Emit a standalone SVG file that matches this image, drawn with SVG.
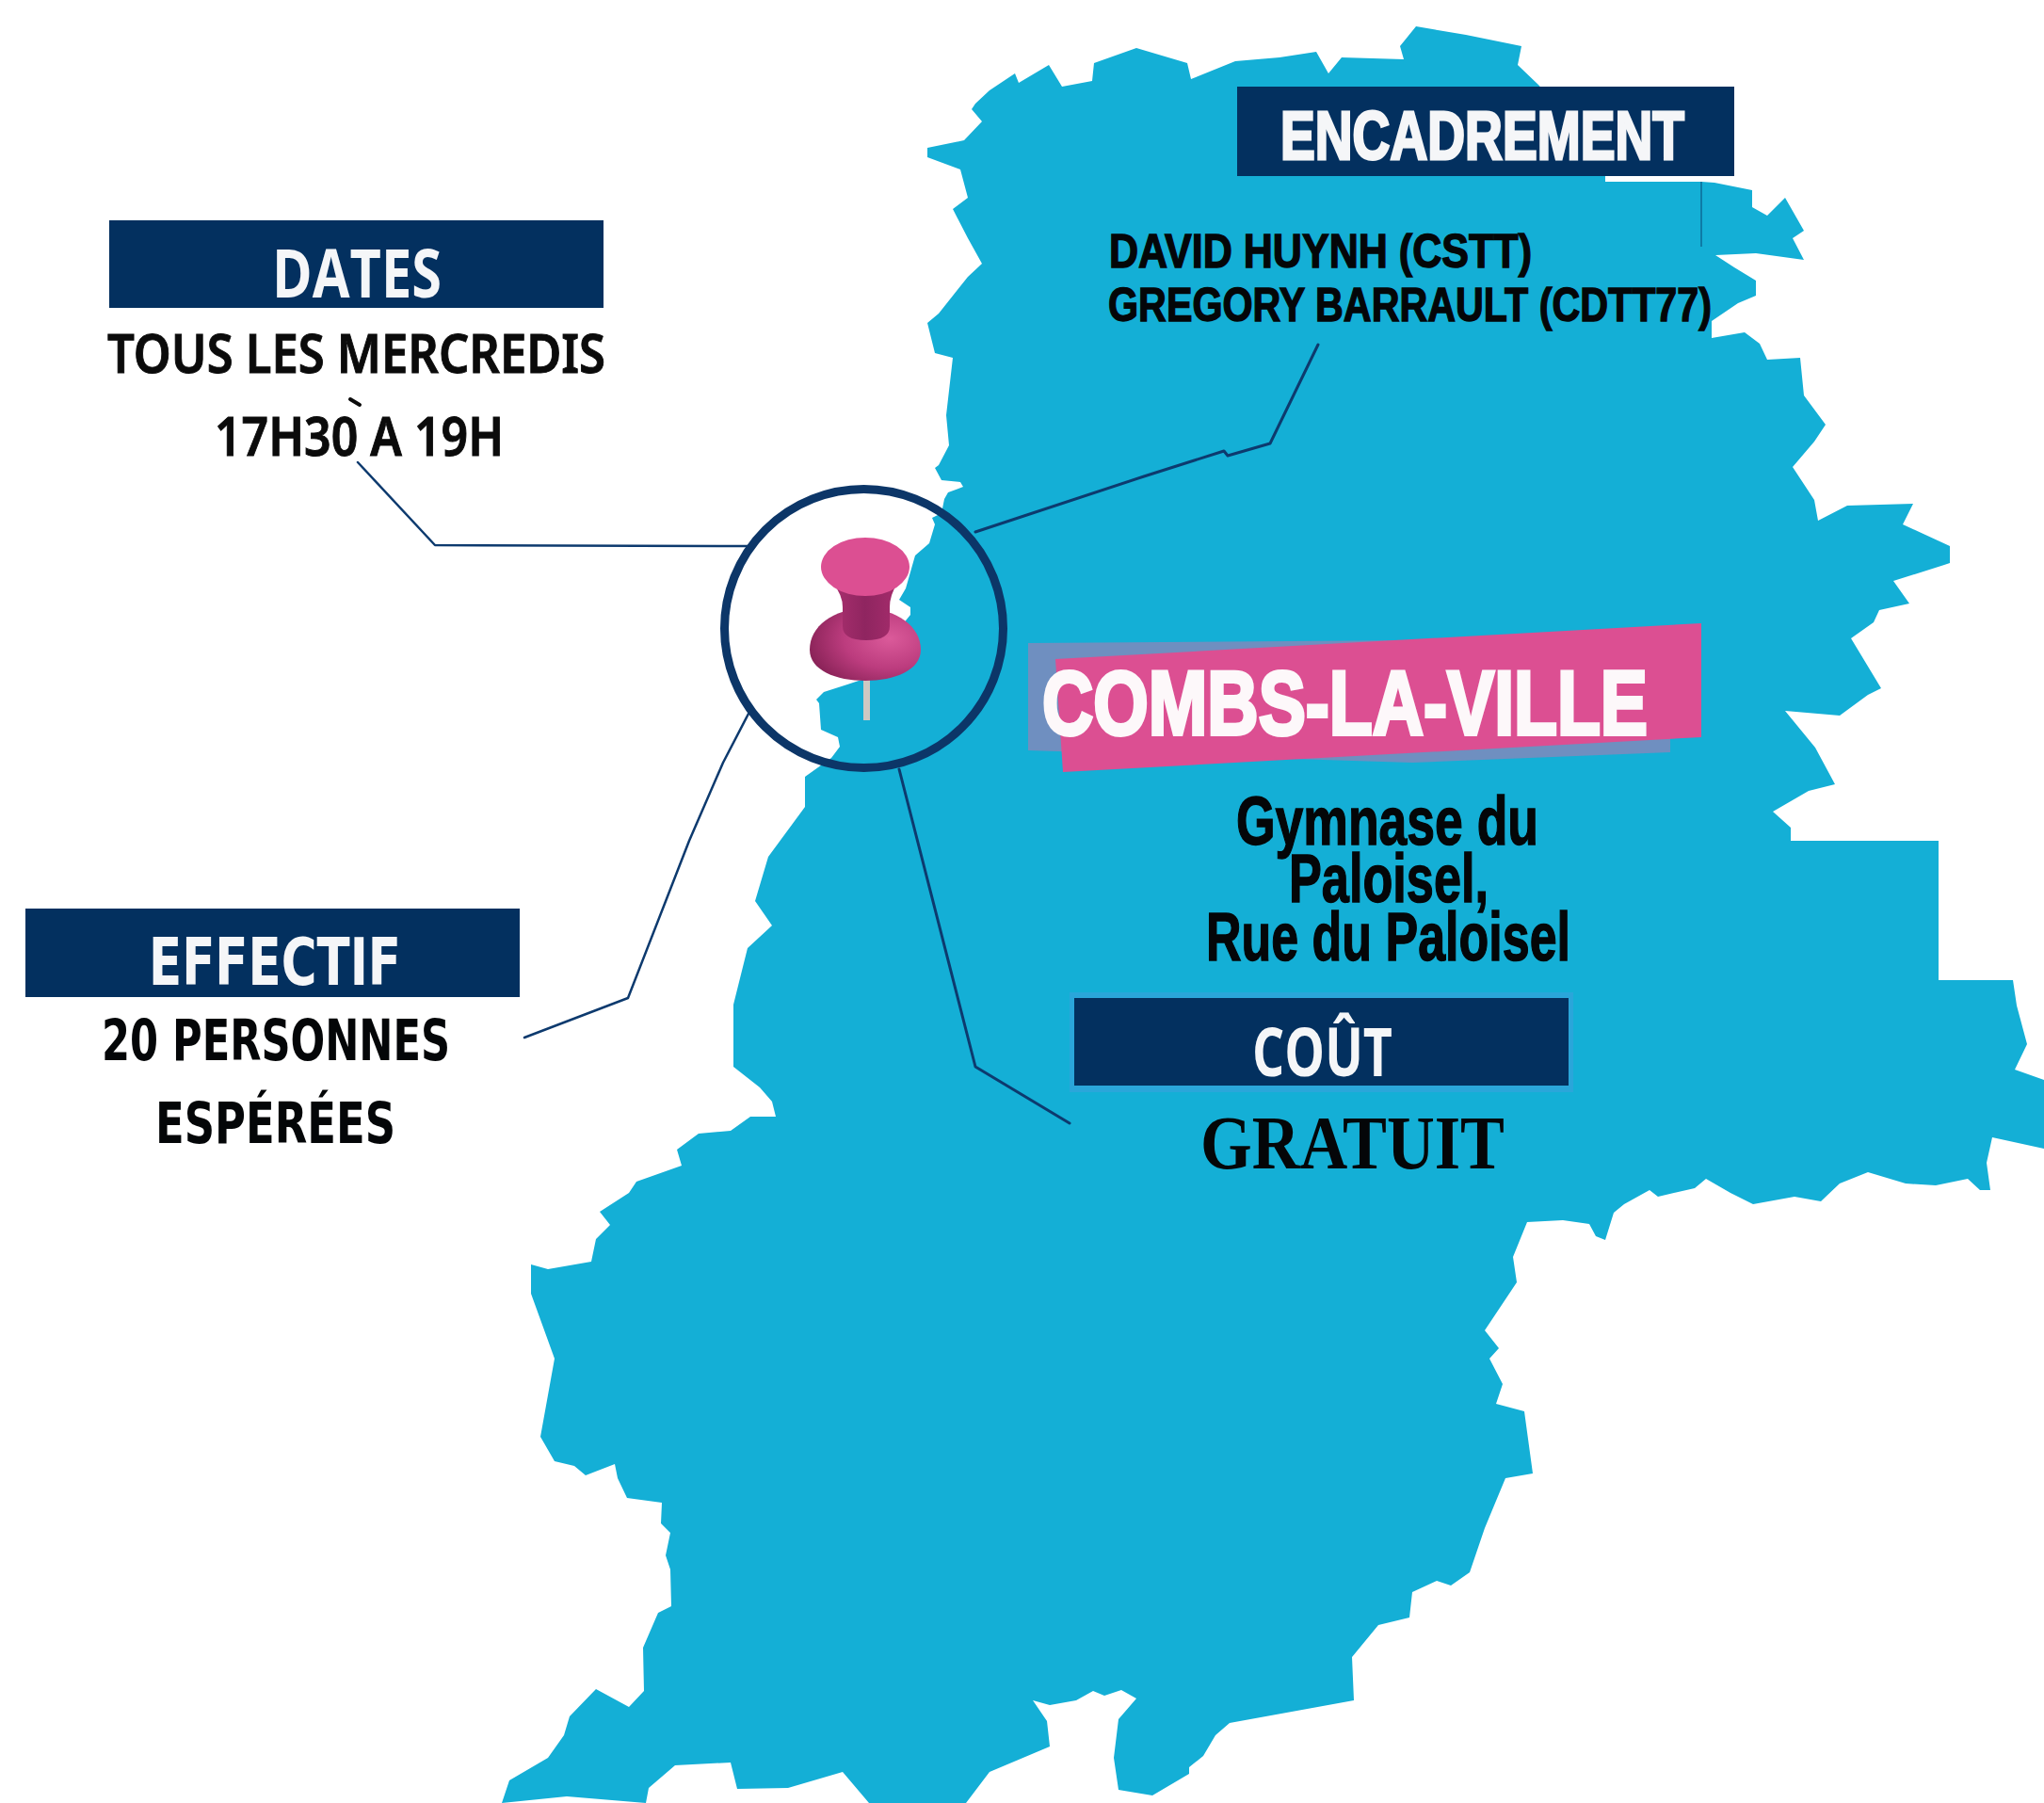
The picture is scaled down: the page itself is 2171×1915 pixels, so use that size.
<svg xmlns="http://www.w3.org/2000/svg" width="2171" height="1915" viewBox="0 0 2171 1915">
<style>
.banner{fill:#03305f}
.ban{fill:#f5f6f8;text-anchor:start}
.sans{font-family:"Liberation Sans",Arial,sans-serif;font-weight:700}
.open{font-family:"Open Sans","Noto Sans",sans-serif;font-weight:700}
.dv{font-family:"DejaVu Sans",sans-serif;font-weight:700}
.comic{font-family:"Noto Sans",sans-serif;font-weight:600;stroke:#0b0b0b;stroke-width:1;fill:#0b0b0b}
.blk{fill:#040608;stroke:#040608;stroke-width:1.4}
.conn{fill:none;stroke:#0d3a6e;stroke-width:2.5;stroke-linejoin:round;stroke-linecap:round}
</style>
<defs>
<linearGradient id="neck" x1="0" x2="1" y1="0" y2="0"><stop offset="0" stop-color="#a92f6e"/><stop offset=".5" stop-color="#8f2560"/><stop offset="1" stop-color="#a52c6c"/></linearGradient>
<radialGradient id="base" cx=".72" cy=".42" r=".75"><stop offset="0" stop-color="#db5a9a"/><stop offset=".55" stop-color="#bc3c7e"/><stop offset="1" stop-color="#8a2358"/></radialGradient>
</defs>
<rect width="2171" height="1915" fill="#fff"/>
<path id="map" fill="#14afd6" d="M1036 110L1051 96L1078 78L1082 88L1114 69L1128 92L1160 86L1162 67L1207 51L1261 67L1265 84L1312 65L1359 61L1398 55L1411 78L1425 61L1491 63L1487 49L1504 28L1557 37L1616 49L1612 69L1635 91L1660 130L1705 187L1705 193L1807 193L1821 194L1861 202L1861 220L1877 229L1896 210L1916 245L1904 253L1916 276L1865 269L1822 271L1842 284L1865 298L1865 314L1846 322L1818 341L1818 359L1853 353L1869 365L1877 382L1912 380L1916 420L1939 451L1927 469L1904 496L1927 531L1931 553L1962 537L2032 535L2021 557L2071 580L2071 598L2065 600L2011 617L2028 641L1996 648L1990 661L1966 678L1998 731L1984 738L1954 760L1896 755L1928 794L1949 833L1921 840L1883 862L1902 879L1902 893L2059 893L2059 1041L2138 1041L2142 1068L2153 1109L2140 1136L2171 1147L2171 1220L2116 1208L2110 1235L2114 1264L2103 1264L2090 1252L2056 1259L2024 1257L1984 1245L1954 1257L1934 1276L1906 1271L1862 1279L1838 1267L1812 1252L1800 1262L1761 1271L1752 1264L1725 1279L1714 1288L1705 1317L1695 1313L1688 1300L1660 1296L1622 1298L1607 1335L1611 1362L1577 1413L1592 1432L1582 1443L1596 1470L1589 1491L1619 1499L1628 1565L1599 1570L1577 1623L1561 1670L1541 1684L1526 1679L1500 1691L1497 1718L1464 1726L1436 1760L1438 1806L1306 1830L1291 1843L1278 1865L1263 1877L1263 1884L1224 1907L1188 1901L1183 1867L1188 1826L1207 1804L1191 1795L1173 1801L1161 1796L1143 1806L1115 1811L1097 1806L1112 1828L1115 1855L1051 1882L1026 1915L923 1915L895 1882L837 1899L783 1900L776 1872L717 1875L689 1899L686 1915L602 1908L533 1915L541 1891L582 1867L599 1843L605 1823L633 1794L668 1813L684 1796L683 1750L699 1713L713 1706L712 1667L707 1652L712 1628L702 1618L703 1596L666 1591L656 1570L653 1555L622 1567L610 1557L589 1552L574 1526L589 1443L564 1374L564 1343L582 1348L628 1340L633 1316L648 1301L637 1287L668 1267L676 1255L724 1238L719 1221L742 1204L776 1201L797 1186L824 1186L820 1170L807 1155L779 1133L779 1067L794 1007L820 983L802 957L816 910L855 857L855 825L883 805L892 793L890 783L872 775L870 747L867 743L875 735L900 727L915 722L945 680L967 653L967 645L955 637L962 625L972 590L987 577L993 557L990 550L1000 545L1003 530L1007 523L1023 517L1020 512L1000 510L993 497L997 494L1008 473L1005 441L1012 380L993 375L985 343L997 333L1028 294L1043 280L1028 253L1012 222L1028 210L1020 180L985 167L985 157L1024 149L1043 129L1032 116Z"/>
<line x1="1807" y1="193" x2="1807" y2="262" stroke="#0d6a96" stroke-width="1.5"/>
<g id="connectors">
<path class="conn" d="M380 491L462 579L800 580"/>
<path class="conn" d="M372 424L382 430" style="stroke:#0b0b0b;stroke-width:4"/>
<path class="conn" d="M557 1102L667 1060L732 893L768 810L795 758"/>
<path class="conn" d="M1400 366L1349 471L1304 484L1300 479L1215 506L1036 565" style="stroke-width:3"/>
<path class="conn" d="M955 817L1036 1133L1136 1193" style="stroke-width:3"/>
</g>
<g id="pin-circle">
<circle cx="917.5" cy="667.5" r="148" fill="none" stroke="#0c3668" stroke-width="9"/>
<rect x="917" y="722" width="7" height="43" fill="#cfc8c2"/>
<path d="M860 690C860 665 885 647 919 646C952 647 978 665 978 690C978 712 950 723 919 723C888 723 860 712 860 690Z" fill="url(#base)"/>
<path d="M885 620H953Q945 632 945 645V665Q945 680 920 680Q895 680 895 665V645Q895 632 885 620Z" fill="url(#neck)"/>
<ellipse cx="919" cy="602" rx="47" ry="31" fill="#dc4f92"/>
</g>
<g id="dates">
<rect class="banner" x="116" y="234" width="525" height="93"/>
<text class="open ban" x="289" y="316" font-size="71" textLength="180" lengthAdjust="spacingAndGlyphs">DATES</text>
<text class="comic" x="114" y="396" font-size="58" textLength="529" lengthAdjust="spacingAndGlyphs">TOUS LES MERCREDIS</text>
<text class="comic" x="228" y="484" font-size="58" textLength="307" lengthAdjust="spacingAndGlyphs">17H30 A 19H</text>
</g>
<g id="effectif">
<rect class="banner" x="27" y="965" width="525" height="94"/>
<text class="dv ban" x="158" y="1046" font-size="69" textLength="268" lengthAdjust="spacingAndGlyphs">EFFECTIF</text>
<text class="dv" fill="#040608" x="108" y="1126" font-size="60" textLength="370" lengthAdjust="spacingAndGlyphs">20 PERSONNES</text>
<text class="dv" fill="#040608" x="165" y="1214" font-size="60" textLength="255" lengthAdjust="spacingAndGlyphs">ESPÉRÉES</text>
</g>
<g id="encadrement">
<rect class="banner" x="1314" y="92" width="528" height="95"/>
<text class="sans ban" x="1360" y="169" font-size="72" textLength="429" lengthAdjust="spacingAndGlyphs" stroke="#f5f6f8" stroke-width="3">ENCADREMENT</text>
<text class="sans blk" x="1178" y="284" font-size="50" textLength="449" lengthAdjust="spacingAndGlyphs">DAVID HUYNH (CSTT)</text>
<text class="sans blk" x="1177" y="341" font-size="50" textLength="641" lengthAdjust="spacingAndGlyphs">GREGORY BARRAULT (CDTT77)</text>
</g>
<g id="commune">
<polygon points="1092,683 1500,680 1774,670 1774,799 1500,810 1092,797" fill="#6f8fc0"/>
<polygon points="1121,700 1807,662 1807,783 1129,820" fill="#dc4f92"/>
<text class="sans" x="1107" y="780" font-size="96" fill="#fdf8fa" stroke="#fdf8fa" stroke-width="4" textLength="643" lengthAdjust="spacingAndGlyphs">COMBS-LA-VILLE</text>
<text class="sans blk" x="1313" y="897" font-size="72" textLength="321" lengthAdjust="spacingAndGlyphs">Gymnase du</text>
<text class="sans blk" x="1369" y="958" font-size="72" textLength="212" lengthAdjust="spacingAndGlyphs">Paloisel,</text>
<text class="sans blk" x="1281" y="1020" font-size="72" textLength="387" lengthAdjust="spacingAndGlyphs">Rue du Paloisel</text>
</g>
<g id="cout">
<rect x="1136" y="1054" width="535" height="106" fill="#2aa6da"/>
<rect class="banner" x="1141" y="1060" width="525" height="93"/>
<text class="open ban" x="1330" y="1143" font-size="71" textLength="149" lengthAdjust="spacingAndGlyphs">COÛT</text>
<text x="1275" y="1241" font-family="'Liberation Serif','Times New Roman',serif" font-weight="700" font-size="80" fill="#040608" textLength="323" lengthAdjust="spacingAndGlyphs">GRATUIT</text>
</g>
</svg>
